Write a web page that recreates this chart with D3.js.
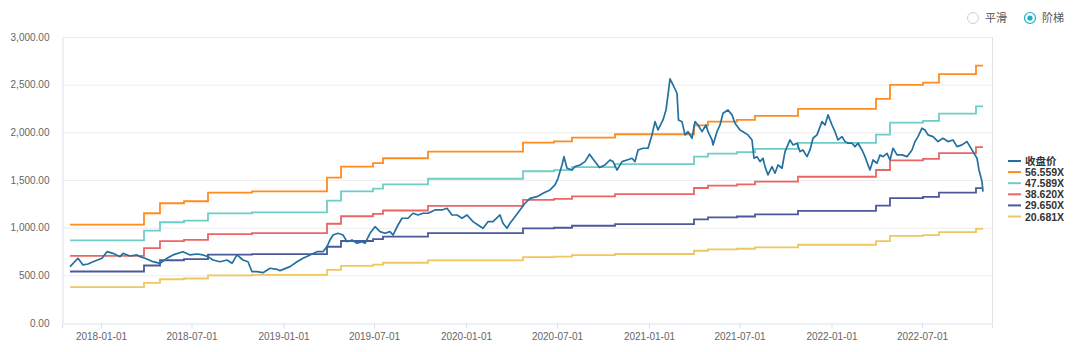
<!DOCTYPE html>
<html>
<head>
<meta charset="utf-8">
<script src="https://cdn.jsdelivr.net/npm/d3@7"></script>
<style>
  body { margin: 0; background: #fff; overflow: hidden; }
  text { font-family: "Helvetica Neue", Helvetica, Arial, "Liberation Sans", "Noto Sans CJK SC", sans-serif; }
</style>
</head>
<body>
<div id="chart"></div>
<script>
// close price (收盘价)
const closeDates = [
  "2017-10-31","2017-11-16","2017-11-26","2017-12-06","2017-12-16","2018-01-03","2018-01-13","2018-01-25",
  "2018-02-08","2018-02-14","2018-02-28","2018-03-14","2018-03-20","2018-03-30","2018-04-15","2018-04-29",
  "2018-05-13","2018-05-25","2018-06-14","2018-06-28","2018-07-12","2018-07-24","2018-08-03","2018-08-13",
  "2018-08-27","2018-09-10","2018-09-20","2018-09-30","2018-10-12","2018-10-22","2018-10-30","2018-11-09",
  "2018-11-21","2018-12-05","2018-12-19","2018-12-25","2019-01-14","2019-01-28","2019-02-09","2019-02-23",
  "2019-03-09","2019-03-21","2019-03-29","2019-04-04","2019-04-10","2019-04-20","2019-04-30","2019-05-08",
  "2019-05-18","2019-05-28","2019-06-07","2019-06-13","2019-06-23","2019-07-03","2019-07-13","2019-07-23",
  "2019-08-02","2019-08-08","2019-08-18","2019-08-26","2019-09-07","2019-09-17","2019-09-27","2019-10-07",
  "2019-10-17","2019-10-31","2019-11-14","2019-11-24","2019-12-04","2019-12-14","2019-12-24","2020-01-03",
  "2020-01-15","2020-01-25","2020-02-04","2020-02-14","2020-02-24","2020-03-09","2020-03-15","2020-03-23",
  "2020-03-29","2020-04-08","2020-04-18","2020-04-28","2020-05-08","2020-05-22","2020-06-03","2020-06-17",
  "2020-06-27","2020-07-03","2020-07-11","2020-07-15","2020-07-21","2020-07-31","2020-08-06","2020-08-16",
  "2020-08-26","2020-09-04","2020-09-14","2020-09-24","2020-10-05","2020-10-15","2020-10-21","2020-10-29",
  "2020-11-08","2020-11-18","2020-11-28","2020-12-04","2020-12-10","2020-12-20","2020-12-30","2021-01-07",
  "2021-01-13","2021-01-19","2021-01-29","2021-02-04","2021-02-08","2021-02-12","2021-02-18","2021-02-26",
  "2021-03-01","2021-03-08","2021-03-14","2021-03-20","2021-03-28","2021-04-03","2021-04-09","2021-04-17",
  "2021-04-25","2021-04-29","2021-05-07","2021-05-09","2021-05-17","2021-05-23","2021-05-29","2021-06-08",
  "2021-06-16","2021-06-22","2021-07-02","2021-07-08","2021-07-18","2021-07-26","2021-07-30","2021-08-05",
  "2021-08-11","2021-08-17","2021-08-21","2021-08-27","2021-09-04","2021-09-10","2021-09-16","2021-09-24",
  "2021-09-30","2021-10-10","2021-10-16","2021-10-24","2021-10-30","2021-11-05","2021-11-13","2021-11-19",
  "2021-11-25","2021-12-03","2021-12-13","2021-12-19","2021-12-25","2022-01-02","2022-01-08","2022-01-14",
  "2022-01-22","2022-01-28","2022-02-03","2022-02-11","2022-02-17","2022-02-23","2022-03-03","2022-03-09",
  "2022-03-15","2022-03-19","2022-03-25","2022-04-02","2022-04-08","2022-04-14","2022-04-22","2022-04-28",
  "2022-05-04","2022-05-12","2022-05-22","2022-06-01","2022-06-11","2022-06-17","2022-06-23","2022-07-01",
  "2022-07-07","2022-07-13","2022-07-23","2022-08-02","2022-08-12","2022-08-22","2022-09-01","2022-09-09",
  "2022-09-19","2022-09-29","2022-10-05","2022-10-11","2022-10-19","2022-10-23","2022-10-29","2022-10-31"
];
const closeValues = [
  591,679,609,619,643,679,748,731,
  696,731,703,714,696,679,643,626,
  679,714,748,714,724,714,696,661,
  643,661,626,714,661,643,538,538,
  528,574,563,549,591,643,679,714,
  748,748,801,871,923,941,923,853,
  871,836,853,836,941,1010,958,941,
  958,923,1028,1099,1099,1151,1133,1151,
  1151,1186,1186,1203,1133,1133,1099,1133,
  1063,1028,994,1063,1063,1133,1046,994,
  1046,1115,1186,1256,1308,1325,1361,1396,
  1448,1518,1658,1745,1623,1605,1640,1658,
  1693,1770,1700,1630,1658,1710,1693,1605,
  1693,1710,1728,1693,1815,1833,1833,1973,
  2112,2025,2130,2235,2392,2560,2497,2410,
  2130,2112,1973,2007,1938,2112,2077,2007,
  2077,2007,1920,1868,2007,2077,2200,2235,
  2183,2095,2025,2007,1973,1920,1728,1745,
  1693,1728,1640,1553,1640,1571,1658,1623,
  1798,1920,1868,1886,1798,1815,1745,1815,
  1938,1973,2112,2077,2183,2077,2007,1920,
  1955,1903,1886,1886,1850,1886,1815,1745,
  1658,1605,1710,1676,1763,1745,1780,1710,
  1833,1763,1763,1745,1815,1903,1955,2043,
  2025,1973,1955,1903,1938,1903,1920,1850,
  1868,1903,1850,1798,1728,1605,1483,1378
];

// PE band step lines: level changes on these dates
const stepDates = [
  "2017-10-31","2018-03-28","2018-04-29","2018-06-16","2018-08-03","2018-10-30","2019-03-29",
  "2019-04-26","2019-06-29","2019-07-19","2019-10-17","2020-04-24","2020-06-25","2020-07-31",
  "2020-10-25","2021-04-01","2021-04-29","2021-06-26","2021-08-01","2021-10-26","2022-03-31",
  "2022-04-28","2022-07-03","2022-08-04","2022-10-17"
];
const stepEnd = "2022-10-31";
const band56 = [1031,1151,1256,1277,1367,1380,1525,1640,1676,1728,1798,1892,1906,1945,1980,2074,2112,2130,2172,2246,2350,2497,2521,2610,2700];
const band47 = [867,968,1057,1074,1150,1161,1283,1380,1410,1454,1513,1592,1604,1636,1666,1745,1777,1792,1827,1890,1977,2101,2121,2196,2272];
const band38 = [704,786,858,872,933,942,1041,1120,1144,1180,1228,1292,1301,1328,1352,1416,1442,1454,1483,1534,1605,1705,1721,1782,1844];
const band29 = [540,603,658,669,717,723,800,860,879,906,943,992,999,1020,1038,1087,1107,1117,1139,1177,1232,1309,1322,1368,1415];
const band20 = [377,421,459,467,500,505,558,600,613,632,657,692,697,711,724,758,772,779,794,821,859,913,922,954,987];

const seriesNames = ["收盘价", "56.559X", "47.589X", "38.620X", "29.650X", "20.681X"];
const seriesColors = ["#24709f", "#ff8c1f", "#6fcdc8", "#eb6565", "#4b5899", "#f0c75e"];
const yTicks = [0, 500, 1000, 1500, 2000, 2500, 3000];
const xTicks = ["2018-01-01","2018-07-01","2019-01-01","2019-07-01","2020-01-01","2020-07-01","2021-01-01","2021-07-01","2022-01-01","2022-07-01"];

const width = 1080, height = 352;
const margin = { left: 62, right: 88, top: 37, bottom: 29 };
const parse = d3.timeParse("%Y-%m-%d");

const svg = d3.select("#chart").append("svg")
  .attr("width", width)
  .attr("height", height);

const x = d3.scaleTime()
  .domain([parse("2017-10-15"), parse("2022-11-18")])
  .range([margin.left, width - margin.right]);

const y = d3.scaleLinear()
  .domain([0, 3000])
  .range([height - margin.bottom, margin.top]);

// grid lines
svg.append("g")
  .selectAll("line")
  .data(yTicks.filter(d => d > 0))
  .enter().append("line")
  .attr("x1", margin.left)
  .attr("x2", width - margin.right)
  .attr("y1", d => y(d) + 0.5)
  .attr("y2", d => y(d) + 0.5)
  .style("stroke", "#ececec")
  .style("stroke-width", 1);

// right border
svg.append("line")
  .attr("x1", width - margin.right + 0.5)
  .attr("x2", width - margin.right + 0.5)
  .attr("y1", y(3000))
  .attr("y2", y(0))
  .style("stroke", "#e2e2e2");

// y axis
const yAxis = svg.append("g")
  .attr("transform", `translate(${margin.left + 0.5},0)`)
  .call(d3.axisLeft(y).tickValues(yTicks).tickSize(0).tickPadding(13)
    .tickFormat(d3.format(",.2f")));
yAxis.select(".domain").style("stroke", "#dbe1ee");
yAxis.selectAll("text").style("fill", "#666").style("font-size", "10px");

// x axis
const xAxis = svg.append("g")
  .attr("transform", `translate(0,${height - margin.bottom + 0.5})`)
  .call(d3.axisBottom(x).tickValues(xTicks.map(parse)).tickSizeOuter(0).tickSize(5).tickPadding(4)
    .tickFormat(d3.timeFormat("%Y-%m-%d")));
xAxis.select(".domain").style("stroke", "#dbe1ee");
xAxis.selectAll(".tick line").style("stroke", "#dbe1ee");
xAxis.selectAll("text").style("fill", "#666").style("font-size", "10px");

// step bands
const bands = [band56, band47, band38, band29, band20];
const stepLine = d3.line()
  .x(d => x(d[0]))
  .y(d => y(d[1]))
  .curve(d3.curveStepAfter);

bands.forEach((vals, i) => {
  const pts = stepDates.map((d, j) => [parse(d), vals[j]]);
  pts.push([parse(stepEnd), vals[vals.length - 1]]);
  svg.append("path")
    .datum(pts)
    .attr("d", stepLine)
    .style("fill", "none")
    .style("stroke", seriesColors[i + 1])
    .style("stroke-width", 1.8);
});

// close price line
const closeLine = d3.line()
  .x(d => x(d[0]))
  .y(d => y(d[1]));

svg.append("path")
  .datum(closeDates.map((d, i) => [parse(d), closeValues[i]]))
  .attr("d", closeLine)
  .style("fill", "none")
  .style("stroke", seriesColors[0])
  .style("stroke-width", 1.7)
  .style("stroke-linejoin", "round");

// legend on the right
const legend = svg.append("g")
  .attr("transform", "translate(1008,161)");

const items = legend.selectAll("g")
  .data(seriesNames)
  .enter().append("g")
  .attr("transform", (d, i) => `translate(0,${i * 11.1})`);

items.append("line")
  .attr("x1", 0).attr("x2", 13)
  .attr("y1", 0).attr("y2", 0)
  .style("stroke", (d, i) => seriesColors[i])
  .style("stroke-width", 2);

items.append("text")
  .attr("x", 17)
  .attr("y", 4)
  .style("font-size", "10.5px")
  .style("font-weight", "bold")
  .style("fill", "#333")
  .text(d => d);

// 平滑 / 阶梯 switch
const sw = svg.append("g");
sw.append("circle")
  .attr("cx", 973).attr("cy", 18).attr("r", 5.5)
  .style("fill", "#fff")
  .style("stroke", "#cfcfcf");
sw.append("text")
  .attr("x", 985).attr("y", 22)
  .style("font-size", "11px")
  .style("fill", "#555")
  .text("平滑");
sw.append("circle")
  .attr("cx", 1030).attr("cy", 18).attr("r", 5.5)
  .style("fill", "#fff")
  .style("stroke", "#1aaec4")
  .style("stroke-width", 1.2);
sw.append("circle")
  .attr("cx", 1030).attr("cy", 18).attr("r", 2.6)
  .style("fill", "#1aaec4");
sw.append("text")
  .attr("x", 1042).attr("y", 22)
  .style("font-size", "11px")
  .style("fill", "#555")
  .text("阶梯");
</script>
</body>
</html>
